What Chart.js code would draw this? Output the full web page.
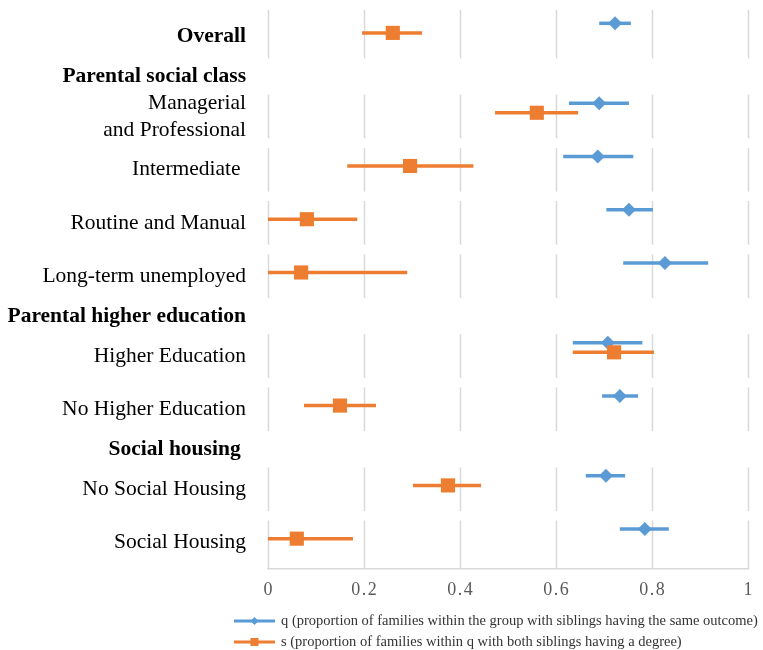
<!DOCTYPE html>
<html><head><meta charset="utf-8">
<script src="https://cdn.jsdelivr.net/npm/chart.js@4.4.1/dist/chart.umd.min.js"></script>
<style>
html,body{margin:0;padding:0;background:#fff;}
#wrap{position:relative;width:763px;height:650px;}
#legend{position:absolute;left:233px;top:610px;font-family:"Liberation Serif";font-size:14.5px;color:#333;line-height:21px;}
.item{display:flex;align-items:center;white-space:nowrap;}
.item canvas{margin-right:5px;}
</style></head><body>
<div id="wrap"><canvas id="c" width="763" height="650"></canvas><div id="legend"></div></div>
<script>
// ---- data ----
const rowLabels = ['Overall', 'Parental social class', 'Managerial\nand Professional', 'Intermediate ',
  'Routine and Manual', 'Long-term unemployed', 'Parental higher education', 'Higher Education',
  'No Higher Education', 'Social housing ', 'No Social Housing', 'Social Housing'];
const qValues = [0.723, null, 0.690, 0.687, 0.752, 0.827, null, 0.708, 0.733, null, 0.704, 0.785];
const qLow    = [0.690, null, 0.627, 0.615, 0.705, 0.740, null, 0.635, 0.696, null, 0.662, 0.733];
const qHigh   = [0.756, null, 0.752, 0.761, 0.802, 0.917, null, 0.780, 0.771, null, 0.744, 0.835];
const sValues = [0.260, null, 0.560, 0.296, 0.081, 0.069, null, 0.721, 0.150, null, 0.375, 0.060];
const sLow    = [0.196, null, 0.473, 0.165, 0.000, 0.000, null, 0.635, 0.075, null, 0.302, 0.000];
const sHigh   = [0.321, null, 0.646, 0.428, 0.186, 0.290, null, 0.804, 0.225, null, 0.444, 0.177];
const xTicks  = [0, 0.2, 0.4, 0.6, 0.8, 1];
const seriesNames = ['q (proportion of families within the group with siblings having the same outcome)',
  's (proportion of families within q with both siblings having a degree)'];

// ---- layout helpers ----
const BLUE = '#5B9BD5', ORANGE = '#ED7D31';
const headerWeight = 0.5, qOffset = -0.25, sOffset = -0.07, inset = 0.09;
let pos = 0;
const bands = rowLabels.map((l, i) => {
  const header = qValues[i] === null;
  const h = header ? headerWeight : 1;
  const b = {start: pos, end: pos + h, center: pos + h / 2, header};
  pos += h; return b;
});
const total = pos;

function points(vals, lo, hi, off) {
  const out = [];
  vals.forEach((v, i) => { if (v !== null) out.push({x: v, y: bands[i].center + off, lo: lo[i], hi: hi[i]}); });
  return out;
}

const panelPlugin = {
  id: 'panels',
  beforeDatasetsDraw(chart) {
    const {ctx, scales: {x, y}} = chart;
    ctx.save();
    ctx.strokeStyle = '#d9d9d9'; ctx.lineWidth = 1.5;
    bands.forEach((b, i) => {
      if (b.header) return;
      const t = y.getPixelForValue(i > 0 ? b.start + inset : b.start);
      const bt = y.getPixelForValue(i < bands.length - 1 ? b.end - inset : b.end);
      xTicks.forEach(v => {
        const px = Math.round(x.getPixelForValue(v)) + 0.5;
        ctx.beginPath(); ctx.moveTo(px, t); ctx.lineTo(px, bt); ctx.stroke();
      });
    });
    [1, 0].forEach(di => {
      const ds = chart.data.datasets[di];
      ctx.strokeStyle = ds.borderColor; ctx.lineWidth = 3.5; ctx.lineCap = 'butt';
      ds.data.forEach(p => {
        const py = y.getPixelForValue(p.y);
        ctx.beginPath(); ctx.moveTo(x.getPixelForValue(p.lo), py); ctx.lineTo(x.getPixelForValue(p.hi), py); ctx.stroke();
      });
    });
    ctx.restore();
  }
};

new Chart(document.getElementById('c'), {
  type: 'scatter',
  data: { datasets: [
    { label: seriesNames[1], data: points(sValues, sLow, sHigh, sOffset), pointStyle: 'rect', pointRadius: 10,
      backgroundColor: ORANGE, borderColor: ORANGE, borderWidth: 0, order: 0 },
    { label: seriesNames[0], data: points(qValues, qLow, qHigh, qOffset), pointStyle: 'rectRot', pointRadius: 7,
      backgroundColor: BLUE, borderColor: BLUE, borderWidth: 0, order: 1 }
  ]},
  options: {
    responsive: false, animation: false, events: [],
    layout: { padding: { top: 7, right: 15, left: 0, bottom: 0 } },
    plugins: { legend: { display: false }, tooltip: { enabled: false } },
    scales: {
      x: {
        type: 'linear', min: 0, max: 1,
        afterBuildTicks: s => { s.ticks = xTicks.map(v => ({value: v})); },
        afterFit: s => { s.height = 81; s.paddingLeft = 0; s.paddingRight = 0; },
        grid: { display: false, drawTicks: false },
        border: { display: true, color: '#d9d9d9', width: 1.5 },
        ticks: { color: '#595959', padding: 10, font: { family: 'Liberation Serif', size: 18 },
          callback: v => String(+v.toFixed(1)).split('').join('\u200A') }
      },
      y: {
        type: 'linear', min: 0, max: total, reverse: true,
        afterBuildTicks: s => { s.ticks = bands.map(b => ({value: b.center})); },
        afterFit: s => { s.width = 268; s.paddingTop = 0; s.paddingBottom = 0; },
        grid: { display: false, drawTicks: false },
        border: { display: false },
        ticks: { color: '#000', padding: 22, autoSkip: false,
          font: c => ({ family: 'Liberation Serif', size: 21.5, lineHeight: 1.25,
            weight: (bands[c.index] && (bands[c.index].header || c.index === 0)) ? 'bold' : 'normal' }),
          callback: (v, i) => rowLabels[i].split('\n') }
      }
    }
  },
  plugins: [panelPlugin]
});

// ---- legend ----
const leg = document.getElementById('legend');
[[seriesNames[0], BLUE, 'diamond'], [seriesNames[1], ORANGE, 'square']].forEach(([name, col, shape]) => {
  const d = document.createElement('div'); d.className = 'item';
  const cv = document.createElement('canvas'); cv.width = 43; cv.height = 12;
  const g = cv.getContext('2d');
  g.strokeStyle = col; g.fillStyle = col; g.lineWidth = 3;
  g.beginPath(); g.moveTo(1, 6); g.lineTo(42, 6); g.stroke();
  if (shape === 'diamond') { g.beginPath(); g.moveTo(21.5, 2); g.lineTo(25.5, 6); g.lineTo(21.5, 10); g.lineTo(17.5, 6); g.closePath(); g.fill(); }
  else g.fillRect(17.5, 2, 8, 8);
  const t = document.createElement('span'); t.textContent = name;
  d.appendChild(cv); d.appendChild(t); leg.appendChild(d);
});
</script>
</body></html>
